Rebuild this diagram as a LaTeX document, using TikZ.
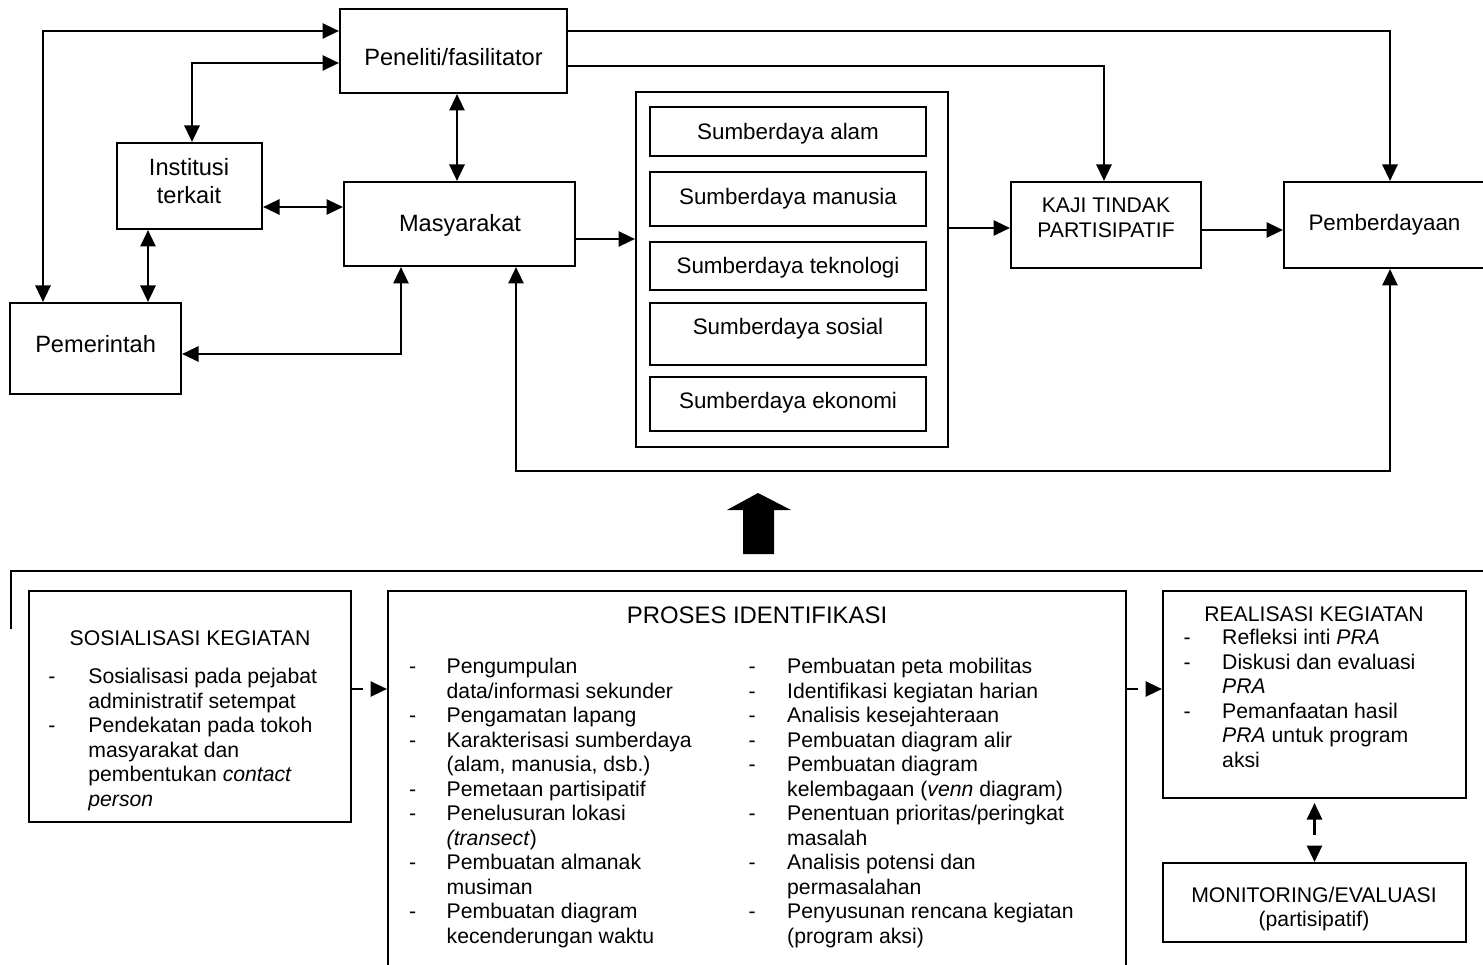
\documentclass[tikz,border=0pt]{standalone}
\usepackage{fontspec}
\setmainfont{Liberation Sans}
\usetikzlibrary{arrows.meta}
\newcommand\fsA{\fontsize{23.6}{27.3}\selectfont}
\newcommand\fsB{\fontsize{22.4}{26}\selectfont}
\newcommand\fsC{\fontsize{21.2}{24.5}\selectfont}
\newcommand\fsD{\fontsize{23.9}{27}\selectfont}
\begin{document}
\begin{tikzpicture}[x=1pt,y=-1pt,
  >={Triangle[length=16.5pt,width=15pt]},
  box/.style={draw,line width=2pt,inner sep=0pt},
  conn/.style={line width=2.7pt},
  dconn/.style={line width=2.7pt,dash pattern=on 11pt off 10pt},
  lbl/.style={inner sep=0pt,anchor=base},
  list/.style={inner sep=0pt,anchor=north west,font=\fsC},
]
\useasboundingbox (0,0) rectangle (1483,965);

% ---------- upper part ----------
\node[box,minimum width=227pt,minimum height=84pt] (pen) at (453.5,51) {};
\node[lbl,font=\fsA] (penT) at (453.5,66) {Peneliti/fasilitator};

\node[box,minimum width=145pt,minimum height=86pt] (inst) at (189.5,186) {};
\node[lbl,font=\fsA] (instT1) at (189,176) {Institusi};
\node[lbl,font=\fsA] (instT2) at (189,203.3) {terkait};

\node[box,minimum width=231pt,minimum height=84pt] (mas) at (459.5,224) {};
\node[lbl,font=\fsA] (masT) at (460,232) {Masyarakat};

\node[box,minimum width=171pt,minimum height=91pt] (pemr) at (95.5,348.5) {};
\node[lbl,font=\fsA] (pemrT) at (95.6,353) {Pemerintah};

\node[box,minimum width=312pt,minimum height=355pt] (sd) at (792,269.5) {};
\node[box,minimum width=276pt,minimum height=49pt] (sd1) at (788,131.5) {};
\node[lbl,font=\fsB] (sd1T) at (788,140) {Sumberdaya alam};
\node[box,minimum width=276pt,minimum height=54pt] (sd2) at (788,199) {};
\node[lbl,font=\fsB] (sd2T) at (788,205) {Sumberdaya manusia};
\node[box,minimum width=276pt,minimum height=48pt] (sd3) at (788,266) {};
\node[lbl,font=\fsB] (sd3T) at (788,274) {Sumberdaya teknologi};
\node[box,minimum width=276pt,minimum height=62pt] (sd4) at (788,334) {};
\node[lbl,font=\fsB] (sd4T) at (788,335) {Sumberdaya sosial};
\node[box,minimum width=276pt,minimum height=54pt] (sd5) at (788,404) {};
\node[lbl,font=\fsB] (sd5T) at (788,409) {Sumberdaya ekonomi};

\node[box,minimum width=190pt,minimum height=86pt] (kaji) at (1106,225) {};
\node[lbl,font=\fsC] (kajiT1) at (1106,213) {KAJI TINDAK};
\node[lbl,font=\fsC] (kajiT2) at (1106,237.7) {PARTISIPATIF};

\node[box,minimum width=201pt,minimum height=86pt] (pemb) at (1384.5,225) {};
\node[lbl,font=\fsB] (pembT) at (1384.5,230.7) {Pemberdayaan};

% connectors upper
\draw[conn,<->] ([xshift=-52.5pt]pemr.north) |- ([yshift=20pt]pen.west);
\draw[conn,<->] ([xshift=2.5pt]inst.north) |- ([yshift=-12pt]pen.west);
\draw[conn,<->] ([xshift=3.5pt]pen.south) -- ([xshift=-2.5pt]mas.north);
\draw[conn,<->] ([yshift=-21pt]inst.east) -- ([yshift=17pt]mas.west);
\draw[conn,<->] ([xshift=-41.5pt]inst.south) -- ([xshift=52.5pt]pemr.north);
\draw[conn,<->] ([xshift=-58.5pt]mas.south) |- ([yshift=-5.5pt]pemr.east);
\draw[conn,->] ([yshift=-15pt]mas.east) -- ([yshift=30.5pt]sd.west);
\draw[conn,->] ([yshift=41.5pt]sd.east) -- ([yshift=-3pt]kaji.west);
\draw[conn,->] ([yshift=-5pt]kaji.east) -- ([yshift=-5pt]pemb.west);
\draw[conn,->] ([yshift=20pt]pen.east) -| ([xshift=5.5pt]pemb.north);
\draw[conn,->] ([yshift=-15pt]pen.east) -| ([xshift=-2pt]kaji.north);
\draw[conn,<->] ([xshift=56.5pt]mas.south) -- ++(0,204) -| ([xshift=5.5pt]pemb.south);

% big arrow
\fill (758,493) -- (791,510) -- (774,510) -- (774,554) -- (743,554) -- (743,510) -- (727,510) -- cycle;

% ---------- lower part ----------
\draw[line width=2pt] (11,629) -- (11,571) -- (1495,571);

\node[box,minimum width=322pt,minimum height=231pt] (sos) at (190,706.5) {};
\node[box,minimum width=738pt,minimum height=394pt] (pro) at (757,788) {};
\node[box,minimum width=303pt,minimum height=207pt] (real) at (1314.5,694.5) {};
\node[box,minimum width=303pt,minimum height=79pt] (mon) at (1314.5,902.5) {};

\node[lbl,font=\fsC] (sosT) at (190,645) {SOSIALISASI KEGIATAN};
\node[list] (sosL) at (48.2,666.4) {\begin{tabular}{@{}p{40pt}@{}l@{}}
- & Sosialisasi pada pejabat\\
  & administratif setempat\\
- & Pendekatan pada tokoh\\
  & masyarakat dan\\
  & pembentukan \textit{contact}\\
  & \textit{person}
\end{tabular}};

\node[lbl,font=\fsD] (proT) at (757,623) {PROSES IDENTIFIKASI};
\node[list] (proL) at (409,656.4) {\begin{tabular}{@{}p{37.5pt}@{}l@{}}
- & Pengumpulan\\
  & data/informasi sekunder\\
- & Pengamatan lapang\\
- & Karakterisasi sumberdaya\\
  & (alam, manusia, dsb.)\\
- & Pemetaan partisipatif\\
- & Penelusuran lokasi\\
  & \textit{(transect})\\
- & Pembuatan almanak\\
  & musiman\\
- & Pembuatan diagram\\
  & kecenderungan waktu
\end{tabular}};
\node[list] (proR) at (748.5,656.4) {\begin{tabular}{@{}p{38.5pt}@{}l@{}}
- & Pembuatan peta mobilitas\\
- & Identifikasi kegiatan harian\\
- & Analisis kesejahteraan\\
- & Pembuatan diagram alir\\
- & Pembuatan diagram\\
  & kelembagaan (\textit{venn} diagram)\\
- & Penentuan prioritas/peringkat\\
  & masalah\\
- & Analisis potensi dan\\
  & permasalahan\\
- & Penyusunan rencana kegiatan\\
  & (program aksi)
\end{tabular}};

\node[lbl,font=\fsC] (realT) at (1314,621) {REALISASI KEGIATAN};
\node[list] (realL) at (1183.5,627.4) {\begin{tabular}{@{}p{38.5pt}@{}l@{}}
- & Refleksi inti \textit{PRA}\\
- & Diskusi dan evaluasi\\
  & \textit{PRA}\\
- & Pemanfaatan hasil\\
  & \textit{PRA} untuk program\\
  & aksi
\end{tabular}};

\node[lbl,font=\fsC] (monT1) at (1314,902) {MONITORING/EVALUASI};
\node[lbl,font=\fsC] (monT2) at (1314,926.5) {(partisipatif)};

% connectors lower
\draw[dconn,->] ([yshift=17.5pt]sos.east) -- ([yshift=99pt]pro.west);
\draw[dconn,->] ([yshift=99pt]pro.east) -- ([yshift=5.5pt]real.west);
\draw[conn,<->,dash pattern=on 16pt off 18pt,shorten <=4pt] (real.south) -- (mon.north);
\end{tikzpicture}
\end{document}
